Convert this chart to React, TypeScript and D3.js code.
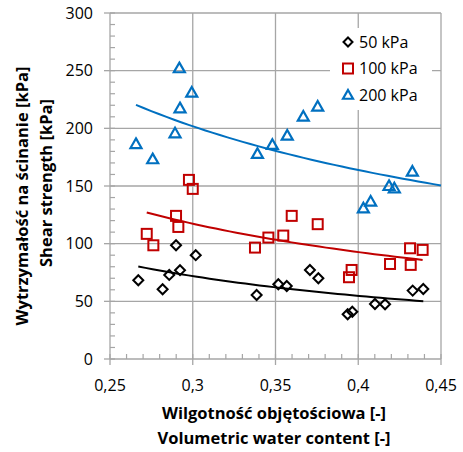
import React from "react";
import * as d3 from "d3";

// Volumetric water content (x) and shear strength in kPa (y) for each normal load
const x50 = [0.2671, 0.2818, 0.2858, 0.2899, 0.2923, 0.3018, 0.3386, 0.3517, 0.3568, 0.3708, 0.3759, 0.3936, 0.3964, 0.4101, 0.4162, 0.4329, 0.4393];
const y50 = [68.3, 60.5, 72.9, 98.6, 77.0, 90.0, 55.5, 64.8, 63.3, 77.2, 70.0, 38.8, 41.0, 47.7, 47.5, 59.3, 60.7];

const x100 = [0.2722, 0.2762, 0.2899, 0.2913, 0.2977, 0.3, 0.3376, 0.3457, 0.3547, 0.3598, 0.3755, 0.3944, 0.396, 0.4192, 0.4313, 0.4317, 0.4389];
const y100 = [108.5, 98.6, 124.1, 114.5, 155.3, 147.5, 96.6, 105.3, 107.0, 124.1, 116.9, 70.9, 77.2, 82.4, 96.0, 81.6, 94.6];

const x200 = [0.2657, 0.2758, 0.2919, 0.2994, 0.2923, 0.2893, 0.3391, 0.3481, 0.3571, 0.3668, 0.3755, 0.4327, 0.4186, 0.4218, 0.4031, 0.4075];
const y200 = [186.5, 173.3, 252.2, 231.1, 217.5, 195.8, 177.9, 185.7, 193.8, 210.2, 218.9, 162.5, 150.1, 148.1, 130.7, 136.5];

const seriesNames = ["50 kPa", "100 kPa", "200 kPa"];
const xTicks = [0.25, 0.3, 0.35, 0.4, 0.45];
const yTicks = [0, 50, 100, 150, 200, 250, 300];

const W = 463;
const H = 452;
const M = { left: 110, right: 441, top: 13, bottom: 359 };

const xScale = d3.scaleLinear().domain([0.25, 0.45]).range([M.left, M.right]);
const yScale = d3.scaleLinear().domain([0, 300]).range([M.bottom, M.top]);

const FONT = "'Open Sans', Lato, sans-serif";
const GRID = "#a6a6a6";

// Least-squares power trend y = a * x^b (fit in log-log space)
function powerFit(xs: number[], ys: number[]) {
  const lx = xs.map(Math.log);
  const ly = ys.map(Math.log);
  const n = xs.length;
  const mx = d3.mean(lx) as number;
  const my = d3.mean(ly) as number;
  let sxy = 0;
  let sxx = 0;
  for (let i = 0; i < n; i++) {
    sxy += (lx[i] - mx) * (ly[i] - my);
    sxx += (lx[i] - mx) * (lx[i] - mx);
  }
  const b = sxy / sxx;
  const a = Math.exp(my - b * mx);
  return (x: number) => a * Math.pow(x, b);
}

function trendPath(xs: number[], ys: number[], x0: number, x1: number) {
  const f = powerFit(xs, ys);
  const pts = d3.range(0, 41).map((i) => x0 + ((x1 - x0) * i) / 40);
  return d3
    .line<number>()
    .x((v) => xScale(v))
    .y((v) => yScale(f(v)))(pts) as string;
}

const diamond = (cx: number, cy: number, r = 5) =>
  `M${cx},${cy - r}L${cx + r},${cy}L${cx},${cy + r}L${cx - r},${cy}Z`;
const triangle = (cx: number, cy: number, s = 5.5) =>
  `M${cx},${cy - s}L${cx + s},${cy + s * 0.75}L${cx - s},${cy + s * 0.75}Z`;

const BLACK = "#000000";
const RED = "#c00000";
const BLUE = "#0070c0";

export default function App() {
  const xMinor = d3.range(0.25, 0.4501, 0.01);
  const yMinor = d3.range(0, 300.1, 10);

  return (
    <svg
      width={W}
      height={H}
      style={{ position: "absolute", left: 0, top: 0, background: "#fff" }}
      fontFamily={FONT}
    >
      <rect x={0} y={0} width={W} height={H} fill="#fff" />

      {/* grid */}
      {xTicks.map((t) => (
        <line key={"gx" + t} x1={xScale(t)} x2={xScale(t)} y1={M.top} y2={M.bottom} stroke={GRID} strokeWidth={1.3} />
      ))}
      {yTicks.map((t) => (
        <line key={"gy" + t} x1={M.left} x2={M.right} y1={yScale(t)} y2={yScale(t)} stroke={GRID} strokeWidth={1.3} />
      ))}

      {/* minor ticks (inside) */}
      {yMinor.map((t) => (
        <line key={"my" + t} x1={M.left} x2={M.left + 5} y1={yScale(t)} y2={yScale(t)} stroke={GRID} strokeWidth={1.2} />
      ))}
      {xMinor.map((t) => (
        <line key={"mx" + t} x1={xScale(t)} x2={xScale(t)} y1={M.bottom} y2={M.bottom - 5} stroke={GRID} strokeWidth={1.2} />
      ))}
      {/* major ticks (outside) */}
      {yTicks.map((t) => (
        <line key={"ty" + t} x1={M.left - 6} x2={M.left} y1={yScale(t)} y2={yScale(t)} stroke={GRID} strokeWidth={1.3} />
      ))}
      {xTicks.map((t) => (
        <line key={"tx" + t} x1={xScale(t)} x2={xScale(t)} y1={M.bottom} y2={M.bottom + 6} stroke={GRID} strokeWidth={1.3} />
      ))}

      {/* tick labels */}
      {yTicks.map((t) => (
        <text key={"ly" + t} x={M.left - 17} y={yScale(t)} dy="0.36em" textAnchor="end" fontSize={16} fill="#000">
          {t}
        </text>
      ))}
      {xTicks.map((t) => (
        <text key={"lx" + t} x={xScale(t)} y={M.bottom + 32} textAnchor="middle" fontSize={16} fill="#000">
          {String(t).replace(".", ",")}
        </text>
      ))}

      {/* axis titles */}
      <text x={274} y={419} textAnchor="middle" fontSize={16.5} fontWeight="bold" fill="#000">
        Wilgotność objętościowa [-]
      </text>
      <text x={274} y={444} textAnchor="middle" fontSize={16.5} fontWeight="bold" fill="#000">
        Volumetric water content [-]
      </text>
      <text transform="translate(28,196) rotate(-90)" textAnchor="middle" fontSize={16.5} fontWeight="bold" fill="#000">
        Wytrzymałość na ścinanie [kPa]
      </text>
      <text transform="translate(52,183) rotate(-90)" textAnchor="middle" fontSize={16.5} fontWeight="bold" fill="#000">
        Shear strength [kPa]
      </text>

      {/* legend */}
      <rect x={330} y={28} width={102} height={82} fill="#fff" />
      <path d={diamond(348, 42, 4.5)} fill="none" stroke={BLACK} strokeWidth={2} />
      <rect x={343} y={63.5} width={10} height={10} fill="none" stroke={RED} strokeWidth={2} />
      <path d={triangle(348, 95, 5)} fill="none" stroke={BLUE} strokeWidth={2.2} />
      {seriesNames.map((n, i) => (
        <text key={n} x={359} y={42 + i * 26.6} dy="0.36em" fontSize={16} fill="#000">
          {n}
        </text>
      ))}

      {/* trend lines */}
      <path d={trendPath(x50, y50, d3.min(x50) as number, d3.max(x50) as number)} fill="none" stroke={BLACK} strokeWidth={2} />
      <path d={trendPath(x100, y100, d3.min(x100) as number, d3.max(x100) as number)} fill="none" stroke={RED} strokeWidth={2} />
      <path d={trendPath(x200, y200, d3.min(x200) as number, 0.45)} fill="none" stroke={BLUE} strokeWidth={2} />

      {/* markers */}
      {x50.map((v, i) => (
        <path key={"d" + i} d={diamond(xScale(v), yScale(y50[i]))} fill="none" stroke={BLACK} strokeWidth={2} />
      ))}
      {x100.map((v, i) => (
        <rect key={"s" + i} x={xScale(v) - 5} y={yScale(y100[i]) - 5} width={10} height={10} fill="none" stroke={RED} strokeWidth={2} />
      ))}
      {x200.map((v, i) => (
        <path key={"t" + i} d={triangle(xScale(v), yScale(y200[i]))} fill="none" stroke={BLUE} strokeWidth={2.2} />
      ))}
    </svg>
  );
}
